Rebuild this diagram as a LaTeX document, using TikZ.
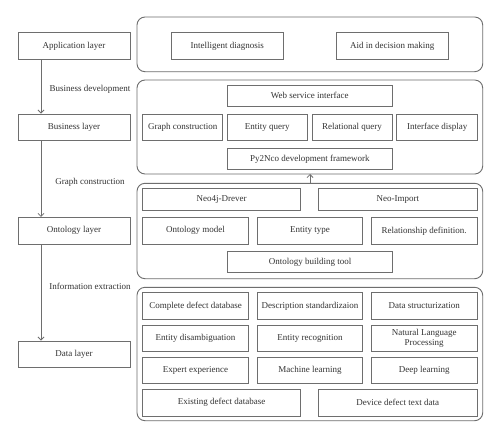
\documentclass[tikz,border=0pt]{standalone}
\usepackage{fontspec}
\setmainfont{Liberation Serif}
\usetikzlibrary{arrows.meta}
\definecolor{ln}{HTML}{6E6E6E}
\definecolor{tx}{HTML}{333333}
\begin{document}
\begin{tikzpicture}[x=1pt,y=-1pt,
  bx/.style={draw=ln,line width=0.9pt,rectangle,inner sep=0pt,text=tx,font=\fontsize{9}{10}\selectfont,align=center},
  panel/.style={draw=ln,line width=0.9pt,rounded corners=8pt},
  lbl/.style={text=tx,font=\fontsize{9}{10}\selectfont,inner sep=0pt},
  arr/.style={draw=ln,line width=0.8pt,-{Straight Barb[length=3pt,width=6pt]}}]
\fill[white] (0,0) rectangle (500,439);
\useasboundingbox (0,0) rectangle (500,439);
% left column
\node[bx,minimum width=112pt,minimum height=27pt] (app) at (74,46.2) {Application layer};
\node[bx,minimum width=112pt,minimum height=26.7pt] (bus) at (74,127.3) {Business layer};
\node[bx,minimum width=112pt,minimum height=26.7pt] (ont) at (74,230.7) {Ontology layer};
\node[bx,minimum width=112pt,minimum height=26.7pt] (dat) at (74,354.3) {Data layer};
\coordinate (ax) at (41,0);
\draw[arr] (app.south -| ax) -- (bus.north -| ax);
\draw[arr] (bus.south -| ax) -- (ont.north -| ax);
\draw[arr] (ont.south -| ax) -- (dat.north -| ax);
\node[lbl] (l1) at (90,89) {Business development};
\node[lbl] (l2) at (90,182) {Graph construction};
\node[lbl] (l3) at (90,286) {Information extraction};
% panels
\draw[panel] (137,17) rectangle (482.7,71.7);
\draw[panel] (137,80) rectangle (482.7,174);
\draw[panel] (137,183.3) rectangle (482.7,278.7);
\draw[panel] (137,287.3) rectangle (482.7,420.7);
\coordinate (p2b) at (310,174);
\coordinate (p3t) at (310,183.3);
\draw[arr] (p3t) -- (p2b);
% panel 1
\node[bx,minimum width=112.7pt,minimum height=27pt] (diag) at (227.3,46.2) {Intelligent diagnosis};
\node[bx,minimum width=112.7pt,minimum height=27pt] (aid) at (392.3,46.2) {Aid in decision making};
% panel 2
\node[bx,minimum width=165.7pt,minimum height=21pt] (web) at (309.8,95.5) {Web service interface};
\node[bx,minimum width=80pt,minimum height=26.7pt] (gc) at (182.7,127.3) {Graph construction};
\node[bx,minimum width=80.3pt,minimum height=26.7pt] (eq) at (267.2,127.3) {Entity query};
\node[bx,minimum width=80pt,minimum height=26.7pt] (rq) at (352,127.3) {Relational query};
\node[bx,minimum width=81pt,minimum height=26.7pt] (idp) at (437.2,127.3) {Interface display};
\node[bx,minimum width=165.7pt,minimum height=20.3pt] (py) at (309.8,158.8) {Py2Nco development framework};
% panel 3
\node[bx,minimum width=158pt,minimum height=22.4pt] (neo) at (221.7,199.5) {Neo4j-Drever};
\node[bx,minimum width=159pt,minimum height=22.4pt] (nim) at (397.8,199.5) {Neo-Import};
\node[bx,minimum width=105.6pt,minimum height=27pt] (om) at (195.5,230.8) {Ontology model};
\node[bx,minimum width=105.4pt,minimum height=27pt] (et) at (310,230.8) {Entity type};
\node[bx,minimum width=106.3pt,minimum height=27pt] (rd) at (424.2,230.8) {Relationship definition.};
\node[bx,minimum width=165.4pt,minimum height=21pt] (obt) at (310,262.2) {Ontology building tool};
% panel 4
\node[bx,minimum width=105.6pt,minimum height=26.6pt] (cdd) at (195.5,306) {Complete defect database};
\node[bx,minimum width=105.4pt,minimum height=26.6pt] (ds) at (310,306) {Description standardizaion};
\node[bx,minimum width=106.3pt,minimum height=26.6pt] (dst) at (424.2,306) {Data structurization};
\node[bx,minimum width=105.6pt,minimum height=26.6pt] (ed) at (195.5,338.3) {Entity disambiguation};
\node[bx,minimum width=105.4pt,minimum height=26.6pt] (er) at (310,338.3) {Entity recognition};
\node[bx,minimum width=106.3pt,minimum height=26.6pt] (nlp) at (424.2,338.3) {Natural Language\\Processing};
\node[bx,minimum width=105.6pt,minimum height=26.6pt] (ee) at (195.5,370.5) {Expert experience};
\node[bx,minimum width=105.4pt,minimum height=26.6pt] (ml) at (310,370.5) {Machine learning};
\node[bx,minimum width=106.3pt,minimum height=26.6pt] (dl) at (424.2,370.5) {Deep learning};
\node[bx,minimum width=158pt,minimum height=26.6pt] (edb) at (221.7,402.7) {Existing defect database};
\node[bx,minimum width=159pt,minimum height=26.6pt] (ddt) at (397.8,402.7) {Device defect text data};
\end{tikzpicture}
\end{document}
